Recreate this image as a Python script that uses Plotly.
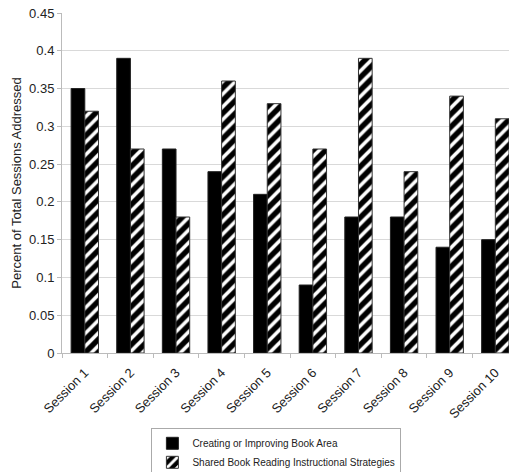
import plotly.graph_objects as go

sessions = ["Session 1", "Session 2", "Session 3", "Session 4", "Session 5",
            "Session 6", "Session 7", "Session 8", "Session 9", "Session 10"]
book_area = [0.35, 0.39, 0.27, 0.24, 0.21, 0.09, 0.18, 0.18, 0.14, 0.15]
shared_reading = [0.32, 0.27, 0.18, 0.36, 0.33, 0.27, 0.39, 0.24, 0.34, 0.31]
y_ticks = [0, 0.05, 0.1, 0.15, 0.2, 0.25, 0.3, 0.35, 0.4, 0.45]
y_tick_labels = ["0", "0.05", "0.1", "0.15", "0.2", "0.25", "0.3", "0.35", "0.4", "0.45"]

fig = go.Figure()
fig.add_trace(go.Bar(
    x=sessions, y=book_area, name="Creating or Improving Book Area",
    marker=dict(color="black", line=dict(color="#222", width=1)),
))
fig.add_trace(go.Bar(
    x=sessions, y=shared_reading, name="Shared Book Reading Instructional Strategies",
    marker=dict(color="black", line=dict(color="#333", width=1),
                pattern=dict(shape="/", bgcolor="black", fgcolor="white",
                             size=9, solidity=0.4, fillmode="overlay", fgopacity=1)),
))

fig.update_layout(
    width=509, height=472,
    margin=dict(l=62, r=0, t=13, b=119, autoexpand=False),
    paper_bgcolor="white", plot_bgcolor="white",
    font=dict(family="Liberation Sans, Arial, sans-serif", size=12, color="#222"),
    barmode="group", bargap=0.4, bargroupgap=0,
    showlegend=True,
    legend=dict(orientation="v", x=0.2, y=-0.22, xanchor="left", yanchor="top",
                bordercolor="#aaa", borderwidth=1, font=dict(size=10),
                tracegroupgap=0, itemwidth=30),
    xaxis=dict(range=[-0.5, 9.3], tickangle=-45, showline=True, linecolor="#bbb",
               ticks="outside", ticklen=4, tickcolor="#bbb", showgrid=False,
               tickson="boundaries", tickfont=dict(size=13), automargin=False,
               ticklabelstandoff=6),
    yaxis=dict(range=[0, 0.45], tickvals=y_ticks, ticktext=y_tick_labels,
               showline=True, linecolor="#bbb", ticks="outside", ticklen=4,
               tickcolor="#bbb", gridcolor="#d9d9d9", zeroline=False, automargin=False,
               title=dict(text="Percent of Total Sessions Addressed", font=dict(size=13), standoff=4),
               tickfont=dict(size=13)),
)

fig.write_html("out.html", post_script="document.body.style.margin='0';",
               config={"displayModeBar": False})
